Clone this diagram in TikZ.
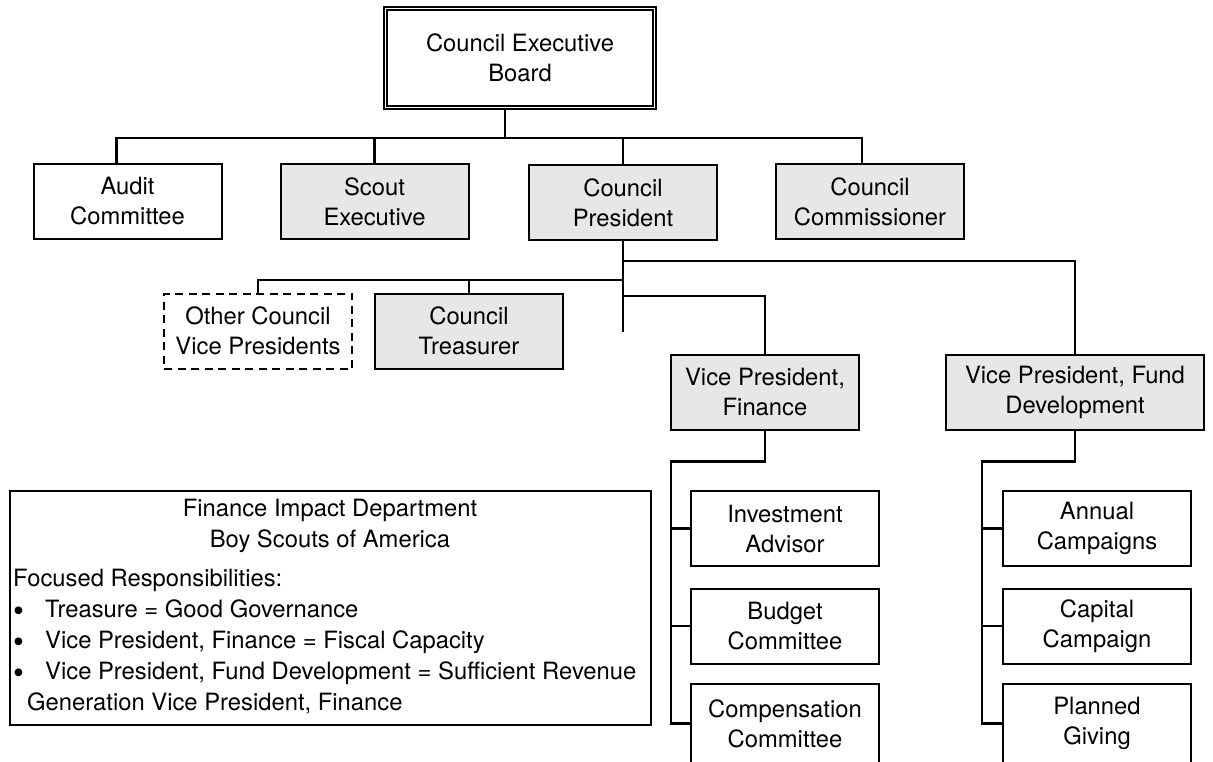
\documentclass[tikz,border=0pt]{standalone}
\usepackage{fontspec}
\setmainfont{TeX Gyre Heros}
\usetikzlibrary{positioning}
\definecolor{boxgray}{RGB}{230,231,232}

\tikzset{
    unit/.style={shape=rectangle, draw=black, line width=2pt, minimum width=188pt, minimum height=75pt, align=center, inner sep=2pt},
    shaded/.style={unit, fill=boxgray},
    vacant/.style={unit, dashed, dash pattern=on 8pt off 5.5pt},
    board/.style={shape=rectangle, draw=black, double, line width=1.5pt, double distance=1.8pt, minimum width=269pt, minimum height=99pt, align=center},
    link/.style={line width=2.4pt, line join=miter},
    legend/.style={font=\fontsize{23.8}{31}\selectfont}
}
\newcommand{\dotitem}{\makebox[32pt][l]{\raisebox{-3.5pt}{\fontsize{31}{30}\selectfont •}}}

\begin{document}
\begin{tikzpicture}[x=1pt, y=-1pt, font=\fontsize{23.8}{30}\selectfont]
        \useasboundingbox (0,0) rectangle (1213,761);

        % top levels
        \node[board] (ceb) at (520,58) {Council Executive\\Board};
        \node[unit] (audit) at (127.5,201.5) {Audit\\Committee};
        \node[shaded] (scout) at (374.5,201.5) {Scout\\Executive};
        \node[shaded] (pres) at (623,202.5) {Council\\President};
        \node[shaded] (comm) at (870,201.5) {Council\\Commissioner};

        \node[vacant] (other) at (258,331) {Other Council\\Vice Presidents};
        \node[shaded] (treas) at (469,331) {Council\\Treasurer};
        \node[shaded] (vpfin) at (765,392) {Vice President,\\Finance};
        \node[shaded, minimum width=258pt] (vpfund) at (1075,392) {Vice President, Fund\\Development};

        % committees
        \node[unit] (invest) at (785,528.5) {Investment\\Advisor};
        \node[unit] (budget) at (785,626) {Budget\\Committee};
        \node[unit, minimum height=79pt] (comp) at (785,723.5) {Compensation\\Committee};
        \node[unit] (annual) at (1097,528.5) {Annual\\Campaigns};
        \node[unit] (capital) at (1097,626) {Capital\\Campaign};
        \node[unit, minimum height=79pt] (planned) at (1097,723.5) {Planned\\Giving};

        % legend box
        \node[unit, minimum width=641pt, minimum height=234pt] (info) at (330.5,608) {};
        \node[legend, anchor=north, align=center] (title) at (330,496) {Finance Impact Department\\Boy Scouts of America};
        \node[legend, anchor=north west, align=left, inner sep=0pt] (resp) at (13,569) {Focused Responsibilities:\\
            \dotitem Treasure = Good Governance\\
            \dotitem Vice President, Finance = Fiscal Capacity\\
            \dotitem Vice President, Fund Development = Sufficient Revenue\\
            \hspace*{14pt}Generation Vice President, Finance};

        % connectors
        \draw[link] ([xshift=-15pt]ceb.south) -- ++(0,30) coordinate (bus);
        \draw[link] ([xshift=-11pt]audit.north) |- (bus) -| ([xshift=-8pt]comm.north);
        \draw[link] (scout.north) -- (scout.north |- bus);
        \draw[link] (pres.north) -- (pres.north |- bus);

        \draw[link] (pres.south) -- ++(0,91);
        \draw[link] ([yshift=-20pt]pres.south) -| (vpfund.north);
        \draw[link] ([yshift=-39pt]pres.south) coordinate (lbus) -| (other.north);
        \draw[link] (treas.north) -- (treas.north |- lbus);
        \draw[link] ([yshift=-55pt]pres.south) -| (vpfin.north);

        \draw[link] (vpfin.south) -- ++(0,31) -| ([xshift=-19pt]comp.west) -- (comp.west);
        \draw[link] (invest.west) -- ++(-19,0);
        \draw[link] (budget.west) -- ++(-19,0);

        \draw[link] (vpfund.south) -- ++(0,31) -| ([xshift=-20pt]planned.west) -- (planned.west);
        \draw[link] (annual.west) -- ++(-20,0);
        \draw[link] (capital.west) -- ++(-20,0);
\end{tikzpicture}
\end{document}
